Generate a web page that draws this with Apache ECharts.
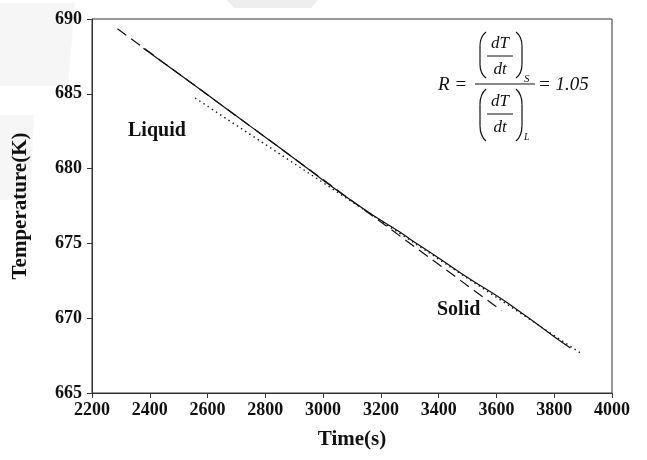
<!DOCTYPE html>
<html>
<head>
<meta charset="utf-8">
<script src="https://cdn.jsdelivr.net/npm/echarts@6/dist/echarts.min.js"></script>
<style>html,body{margin:0;padding:0;background:#fff;}#c{width:647px;height:460px;}</style>
</head>
<body>
<div id="c"></div>
<script>
// Measured curve (solid)
const timeMeasured = [2378, 2500, 2600, 2700, 2800, 2900, 3000, 3100, 3200, 3267, 3300, 3400, 3500, 3613, 3700, 3800, 3856];
const tempMeasured = [688.04, 686.34, 684.93, 683.51, 682.10, 680.68, 679.22, 677.83, 676.55, 675.74, 675.30, 674.03, 672.72, 671.35, 670.18, 668.76, 668.01];
// Liquid fit (dashed)
const timeLiquidFit = [2288, 3617];
const tempLiquidFit = [689.35, 670.52];
// Solid fit (dotted)
const timeSolidFit = [2557, 3896];
const tempSolidFit = [684.72, 667.61];
// Axis ticks
const xTicks = [2200, 2400, 2600, 2800, 3000, 3200, 3400, 3600, 3800, 4000];
const yTicks = [665, 670, 675, 680, 685, 690];

const pair = (xs, ys) => xs.map((x, i) => [x, ys[i]]);
const FONT = 'Liberation Serif';

const chart = echarts.init(document.getElementById('c'), null, {renderer: 'canvas'});

const STROKE = {stroke: '#111', lineWidth: 1.2, fill: null};
const paren = (x, y1, y2, dir) => {
  // dir = +1 for left paren "(", -1 for right paren ")"
  const h = y2 - y1, w = 6 * dir;
  return [
    {type: 'bezierCurve', shape: {x1: x + w, y1: y1, x2: x, y2: y1 + h * 0.3, cpx1: x, cpy1: y1 + h * 0.1}, style: STROKE},
    {type: 'line', shape: {x1: x, y1: y1 + h * 0.3, x2: x, y2: y2 - h * 0.3}, style: STROKE},
    {type: 'bezierCurve', shape: {x1: x, y1: y2 - h * 0.3, x2: x + w, y2: y2, cpx1: x, cpy1: y2 - h * 0.1}, style: STROKE}
  ];
};
const txt = (x, y, s, size, align) => ({
  type: 'text', x: x, y: y,
  style: {text: s, font: `italic ${size}px "${FONT}"`, fill: '#111', align: align || 'center', verticalAlign: 'middle'}
});
const ln = (x1, y1, x2, y2) => ({
  type: 'line', shape: {x1, y1, x2, y2}, style: {stroke: '#111', lineWidth: 1}
});

chart.setOption({
  animation: false,
  backgroundColor: '#fff',
  grid: {left: 92, right: 35, top: 19, bottom: 67, show: true, borderColor: '#333', borderWidth: 1, backgroundColor: 'transparent'},
  xAxis: {
    type: 'value', min: 2200, max: 4000, interval: 200,
    name: 'Time(s)', nameLocation: 'middle', nameGap: 36,
    nameTextStyle: {fontFamily: FONT, fontWeight: 'bold', fontSize: 21, color: '#111'},
    axisLine: {show: true, lineStyle: {color: '#333', width: 1}},
    axisTick: {show: true, inside: false, length: 5, lineStyle: {color: '#333'}},
    axisLabel: {fontFamily: FONT, fontWeight: 'bold', fontSize: 18, color: '#111', margin: 8,
      formatter: v => xTicks.includes(v) ? String(v) : ''},
    splitLine: {show: false}
  },
  yAxis: {
    type: 'value', min: 665, max: 690, interval: 5,
    name: 'Temperature(K)', nameLocation: 'middle', nameGap: 61, nameRotate: 90,
    nameTextStyle: {fontFamily: FONT, fontWeight: 'bold', fontSize: 21, color: '#111'},
    axisLine: {show: true, lineStyle: {color: '#333', width: 1}},
    axisTick: {show: true, inside: false, length: 5, lineStyle: {color: '#333'}},
    axisLabel: {fontFamily: FONT, fontWeight: 'bold', fontSize: 18, color: '#111', margin: 10,
      formatter: v => yTicks.includes(v) ? String(v) : ''},
    splitLine: {show: false}
  },
  series: [
    {type: 'line', name: 'Measured', data: pair(timeMeasured, tempMeasured), showSymbol: false, smooth: true,
      lineStyle: {color: '#111', width: 1.2}},
    {type: 'line', name: 'Liquid fit', data: pair(timeLiquidFit, tempLiquidFit), showSymbol: false,
      lineStyle: {color: '#111', width: 1.2, type: [11, 6]}},
    {type: 'line', name: 'Solid fit', data: pair(timeSolidFit, tempSolidFit), showSymbol: false,
      lineStyle: {color: '#111', width: 1.4, type: [1.4, 3.6]}}
  ],
  graphic: [
    {type: 'polygon', shape: {points: [[227, 0], [318, 0], [311, 8], [234, 8]]}, style: {fill: '#eeeeee'}, z: -10},
    {type: 'polygon', shape: {points: [[0, 3], [75, 3], [68, 86], [0, 86]]}, style: {fill: '#f6f6f6'}, z: -10},
    {type: 'polygon', shape: {points: [[0, 115], [34, 115], [30, 200], [0, 200]]}, style: {fill: '#f6f6f6'}, z: -10},
    {type: 'text', x: 128, y: 131, style: {text: 'Liquid', font: `bold 20px "${FONT}"`, fill: '#111', verticalAlign: 'middle'}},
    {type: 'text', x: 437, y: 310, style: {text: 'Solid', font: `bold 20px "${FONT}"`, fill: '#111', verticalAlign: 'middle'}},
    txt(438, 85, 'R =', 19, 'left'),
    ln(475, 84, 535, 84),
    ...paren(480, 32, 78, 1), ...paren(522, 32, 78, -1),
    txt(500, 44, 'dT', 17), ln(487, 56, 513, 56), txt(500, 70, 'dt', 17),
    txt(524, 79, 'S', 11, 'left'),
    ...paren(480, 89, 141, 1), ...paren(522, 89, 141, -1),
    txt(500, 102, 'dT', 17), ln(487, 114, 513, 114), txt(500, 128, 'dt', 17),
    txt(524, 137, 'L', 10, 'left'),
    txt(538, 85, '= 1.05', 19, 'left')
  ]
});
</script>
</body>
</html>
